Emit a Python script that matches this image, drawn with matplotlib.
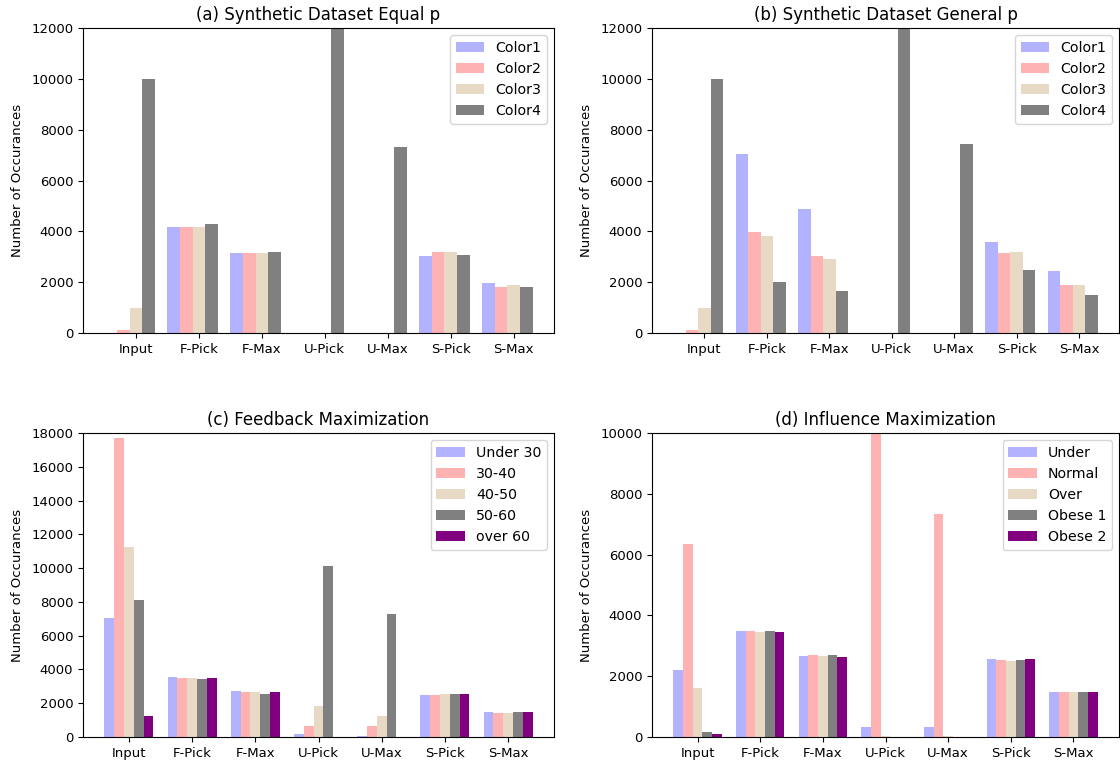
import matplotlib
matplotlib.use("Agg")
import matplotlib.pyplot as plt
import numpy as np

categories = ["Input", "F-Pick", "F-Max", "U-Pick", "U-Max", "S-Pick", "S-Max"]

# (a) Synthetic Dataset Equal p
a_labels = ["Color1", "Color2", "Color3", "Color4"]
a_color1 = [0, 4180, 3140, 0, 0, 3030, 1975]
a_color2 = [100, 4180, 3140, 0, 0, 3200, 1820]
a_color3 = [1000, 4180, 3140, 0, 0, 3200, 1870]
a_color4 = [10000, 4300, 3200, 16000, 7320, 3085, 1820]

# (b) Synthetic Dataset General p
b_labels = ["Color1", "Color2", "Color3", "Color4"]
b_color1 = [0, 7060, 4860, 0, 0, 3595, 2430]
b_color2 = [100, 3975, 3030, 0, 0, 3140, 1880]
b_color3 = [1000, 3805, 2930, 0, 0, 3200, 1880]
b_color4 = [10000, 1990, 1660, 16000, 7440, 2485, 1490]

# (c) Feedback Maximization
c_labels = ["Under 30", "30-40", "40-50", "50-60", "over 60"]
c_under30 = [7030, 3565, 2720, 180, 80, 2480, 1480]
c_30_40 = [17720, 3485, 2640, 670, 670, 2480, 1400]
c_40_50 = [11265, 3485, 2640, 1850, 1260, 2560, 1400]
c_50_60 = [8110, 3405, 2560, 10100, 7285, 2560, 1480]
c_over60 = [1260, 3485, 2640, 0, 0, 2560, 1480]

# (d) Influence Maximization
d_labels = ["Under", "Normal", "Over", "Obese 1", "Obese 2"]
d_under = [2210, 3490, 2660, 320, 320, 2570, 1465]
d_normal = [6345, 3490, 2700, 12000, 7350, 2530, 1465]
d_over = [1610, 3445, 2660, 40, 30, 2485, 1465]
d_obese1 = [175, 3490, 2700, 0, 0, 2530, 1465]
d_obese2 = [90, 3445, 2625, 0, 0, 2570, 1465]

colors4 = [("blue", 0.3), ("red", 0.3), ("tan", 0.5), ("gray", 1.0)]
colors5 = colors4 + [("purple", 1.0)]

W, H = 1120, 766
fig = plt.figure(figsize=(W / 100, H / 100), dpi=100)

def make_ax(l, t, r, b):
    return fig.add_axes([l / W, 1 - b / H, (r - l) / W, (b - t) / H])

FS = 9.5
LFS = 10.2

def draw(ax, series, labels, colors, width, ylim, title):
    x = np.arange(len(categories))
    for i, (vals, lab, (c, a)) in enumerate(zip(series, labels, colors)):
        ax.bar(x + (i - 2) * width, vals, width, color=c, alpha=a, label=lab)
    ax.set_xticks(x)
    ax.set_xticklabels(categories, fontsize=FS)
    ax.set_ylim(0, ylim)
    ax.set_yticks(np.arange(0, ylim + 1, 2000))
    ax.tick_params(axis="y", labelsize=FS)
    ax.set_ylabel("Number of Occurances", fontsize=FS, labelpad=5)
    ax.set_title(title, fontsize=12)
    ax.legend(loc="upper right", fontsize=LFS)

ax_a = make_ax(83, 28, 554, 333)
draw(ax_a, [a_color1, a_color2, a_color3, a_color4], a_labels, colors4, 0.2, 12000,
     "(a) Synthetic Dataset Equal p")
ax_b = make_ax(652, 28, 1119, 333)
draw(ax_b, [b_color1, b_color2, b_color3, b_color4], b_labels, colors4, 0.2, 12000,
     "(b) Synthetic Dataset General p")
ax_c = make_ax(83, 433, 554, 737)
draw(ax_c, [c_under30, c_30_40, c_40_50, c_50_60, c_over60], c_labels, colors5, 0.155, 18000,
     "(c) Feedback Maximization")
ax_d = make_ax(652, 433, 1119, 737)
draw(ax_d, [d_under, d_normal, d_over, d_obese1, d_obese2], d_labels, colors5, 0.155, 10000,
     "(d) Influence Maximization")

fig.savefig("out.png", dpi=100)
